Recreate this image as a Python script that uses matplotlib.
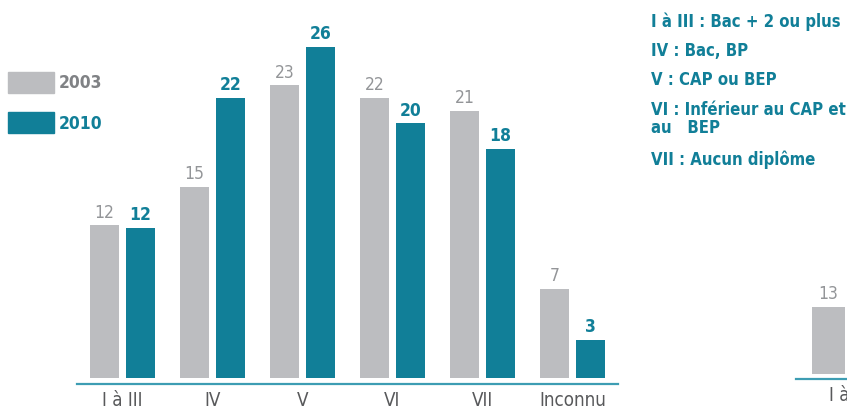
import matplotlib.pyplot as plt
from matplotlib.patches import Patch

categories = ["I à III", "IV", "V", "VI", "VII", "Inconnu"]
values_2003 = [12, 15, 23, 22, 21, 7]
values_2010 = [11.8, 22, 26, 20, 18, 3]
labels_2003 = ["12", "15", "23", "22", "21", "7"]
labels_2010 = ["12", "22", "26", "20", "18", "3"]

# second chart, only its first bar is visible at the right edge
categories_next = ["I à III"]
values_next_2003 = [13]
labels_next_2003 = ["13"]

notes = [
    "I à III : Bac + 2 ou plus",
    "IV : Bac, BP",
    "V : CAP ou BEP",
    "VI : Inférieur au CAP et\nau   BEP",
    "VII : Aucun diplôme",
]

GREY = "#bcbdc0"
TEAL = "#117f98"
GREY_TXT = "#939598"
DARK_TXT = "#58595b"
LINE = "#3d9db3"
FONT = ["DejaVu Sans"]

W, H = 847, 409


def px(x, y, w, h):
    return [x / W, y / H, w / W, h / H]


def style_axis(ax):
    for side in ["top", "right", "left"]:
        ax.spines[side].set_visible(False)
    ax.spines["bottom"].set_color(LINE)
    ax.spines["bottom"].set_linewidth(1.6)
    ax.set_yticks([])
    ax.tick_params(axis="x", length=0, pad=5, labelsize=13.5, labelcolor=DARK_TXT)


def main():
    plt.rcParams["font.family"] = FONT
    plt.rcParams["font.stretch"] = "condensed"
    fig = plt.figure(figsize=(W / 100, H / 100), dpi=100)

    # main chart
    scale = 12.73  # pixels per unit
    ax = fig.add_axes(px(77, 25, 541, 374))
    x = list(range(len(categories)))
    bw = 0.322
    b1 = ax.bar([i - 0.2 for i in x], values_2003, width=bw, color=GREY)
    b2 = ax.bar([i + 0.2 for i in x], values_2010, width=bw, color=TEAL)
    ax.set_xlim(-0.506, 5.506)
    lo = -6 / scale
    ax.set_ylim(lo, lo + 374 / scale)
    ax.set_xticks(x)
    ax.set_xticklabels(categories)
    style_axis(ax)

    for rect, lab in zip(b1, labels_2003):
        ax.annotate(lab, (rect.get_x() + rect.get_width() / 2, rect.get_height()),
                    xytext=(0, 5.5), textcoords="offset points", ha="center",
                    va="baseline", fontsize=12.5, color=GREY_TXT)
    for rect, lab in zip(b2, labels_2010):
        ax.annotate(lab, (rect.get_x() + rect.get_width() / 2, rect.get_height()),
                    xytext=(0, 5.5), textcoords="offset points", ha="center",
                    va="baseline", fontsize=12.5, color=TEAL, fontweight="bold")

    # next chart, cut by the figure edge
    scale2 = 5.15
    ax2 = fig.add_axes(px(796, 30, 541, 374))
    b3 = ax2.bar([-0.233], values_next_2003, width=0.36, color=GREY)
    ax2.set_xlim(-0.593, 5.407)
    lo2 = -5 / scale2
    ax2.set_ylim(lo2, lo2 + 374 / scale2)
    ax2.set_xticks([0])
    ax2.set_xticklabels(categories_next)
    style_axis(ax2)
    for rect, lab in zip(b3, labels_next_2003):
        ax2.annotate(lab, (rect.get_x() + rect.get_width() / 2, rect.get_height()),
                     xytext=(0, 5.5), textcoords="offset points", ha="center",
                     va="baseline", fontsize=12.5, color=GREY_TXT)

    # legend
    handles = [Patch(color=GREY), Patch(color=TEAL)]
    leg = fig.legend(handles, ["2003", "2010"], loc="upper left",
                     bbox_to_anchor=(8 / W, 1 - 72 / H), frameon=False,
                     handlelength=2.65, handleheight=1.5, handletextpad=0.3,
                     labelspacing=1.1, borderpad=0, borderaxespad=0,
                     prop={"family": FONT, "stretch": "condensed",
                           "weight": "bold", "size": 12.5})
    for t, c in zip(leg.get_texts(), ["#808285", TEAL]):
        t.set_color(c)

    # notes on the right
    ys = [22, 51, 80, 119, 160]
    for note, yy in zip(notes, ys):
        fig.text(651 / W, 1 - yy / H, note, ha="left", va="center",
                 fontsize=12, fontweight="bold", color=TEAL,
                 fontstretch="condensed", linespacing=1.0)

    fig.savefig("out.png", dpi=100)


if __name__ == "__main__":
    main()
